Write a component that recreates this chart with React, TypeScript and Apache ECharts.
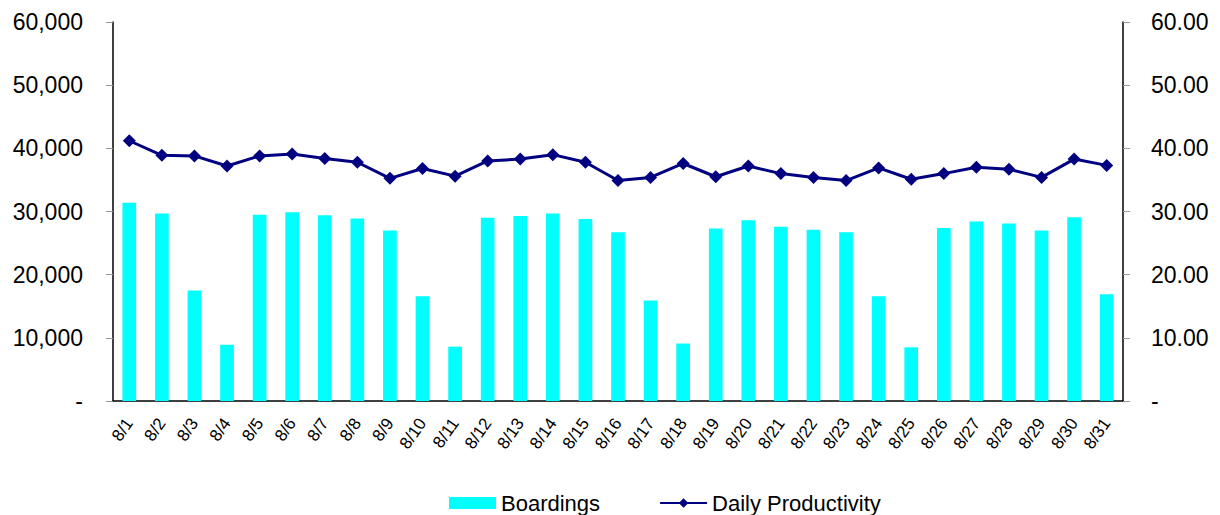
import React, { useEffect, useRef } from "react";
import * as echarts from "echarts";

const categories = [
  "8/1", "8/2", "8/3", "8/4", "8/5", "8/6", "8/7", "8/8", "8/9", "8/10",
  "8/11", "8/12", "8/13", "8/14", "8/15", "8/16", "8/17", "8/18", "8/19", "8/20",
  "8/21", "8/22", "8/23", "8/24", "8/25", "8/26", "8/27", "8/28", "8/29", "8/30", "8/31",
];

const boardings = [
  31400, 29700, 17500, 8900, 29500, 29900, 29400, 28900, 27000, 16600,
  8600, 29000, 29300, 29700, 28800, 26700, 15900, 9100, 27300, 28600,
  27600, 27100, 26700, 16600, 8500, 27400, 28400, 28100, 27000, 29100, 16900,
];

const dailyProductivity = [
  41.2, 38.9, 38.8, 37.2, 38.8, 39.1, 38.4, 37.8, 35.25, 36.8,
  35.6, 38.0, 38.3, 39.0, 37.8, 34.9, 35.4, 37.6, 35.5, 37.2,
  36.0, 35.4, 34.9, 36.9, 35.1, 36.0, 37.0, 36.7, 35.4, 38.3, 37.3,
];

const FONT = "'Liberation Sans', Arial, sans-serif";

export default function App() {
  const ref = useRef<HTMLDivElement>(null);

  useEffect(() => {
    document.body.style.margin = "0";
    if (!ref.current) return;
    const chart = echarts.init(ref.current, undefined, { renderer: "svg" });
    chart.setOption({
      animation: false,
      textStyle: { fontFamily: FONT, color: "#000" },
      grid: { left: 113, right: 97, top: 22, bottom: 114, containLabel: false },
      legend: {
        left: 449,
        top: 492,
        padding: 0,
        itemWidth: 47,
        itemHeight: 12,
        itemGap: 59,
        textStyle: { fontFamily: FONT, fontSize: 22, color: "#000" },
        data: [
          { name: "Boardings", icon: "rect" },
          { name: "Daily Productivity" },
        ],
      },
      xAxis: {
        type: "category",
        data: categories,
        axisLine: { lineStyle: { color: "#000", width: 1.5 } },
        axisTick: { show: false },
        axisLabel: {
          rotate: 55,
          fontSize: 17,
          color: "#000",
          fontFamily: FONT,
          margin: 19,
          interval: 0,
        },
      },
      yAxis: [
        {
          type: "value",
          min: 0,
          max: 60000,
          interval: 10000,
          position: "left",
          splitLine: { show: false },
          axisLine: { show: true, lineStyle: { color: "#000", width: 1.5 } },
          axisTick: { show: true, inside: false, length: 7, lineStyle: { color: "#999" } },
          axisLabel: {
            fontSize: 23,
            color: "#000",
            fontFamily: FONT,
            margin: 30,
            formatter: (v: number) => (v === 0 ? "-" : v.toLocaleString("en-US")),
          },
        },
        {
          type: "value",
          min: 0,
          max: 60,
          interval: 10,
          position: "right",
          splitLine: { show: false },
          axisLine: { show: true, lineStyle: { color: "#000", width: 1.5 } },
          axisTick: { show: true, inside: false, length: 7, lineStyle: { color: "#999" } },
          axisLabel: {
            fontSize: 23,
            color: "#000",
            fontFamily: FONT,
            margin: 28,
            formatter: (v: number) => (v === 0 ? "-" : v.toFixed(2)),
          },
        },
      ],
      series: [
        {
          name: "Boardings",
          type: "bar",
          yAxisIndex: 0,
          data: boardings,
          barWidth: "42%",
          itemStyle: { color: "#00FFFF" },
        },
        {
          name: "Daily Productivity",
          type: "line",
          yAxisIndex: 1,
          data: dailyProductivity,
          symbol: "diamond",
          symbolSize: 13,
          lineStyle: { color: "#000080", width: 3 },
          itemStyle: { color: "#000080" },
        },
      ],
    });
    return () => chart.dispose();
  }, []);

  return <div ref={ref} style={{ width: 1220, height: 515 }} />;
}
